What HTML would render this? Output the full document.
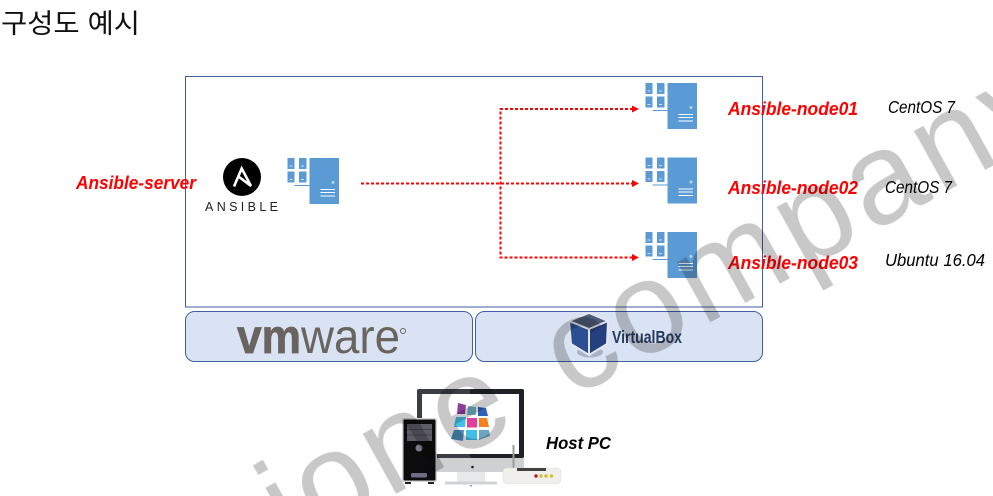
<!DOCTYPE html>
<html><head><meta charset="utf-8"><style>
html,body{margin:0;padding:0;background:#fff;width:993px;height:496px;overflow:hidden}
svg{display:block;position:absolute;left:0;top:0}
.l{font-family:"Liberation Sans","Noto Sans CJK KR",sans-serif}
</style></head><body>
<svg width="993" height="496" viewBox="0 0 993 496" xmlns="http://www.w3.org/2000/svg" style="overflow:hidden">
<defs>
<g id="srv">
<rect x="0" y="0" width="29.5" height="46" fill="#5b9bd5"/>
<rect x="-22" y="0" width="7" height="11" fill="#5b9bd5"/><rect x="-10.500" y="0" width="7.500" height="11" fill="#5b9bd5"/>
<rect x="-22" y="13.500" width="7" height="11" fill="#5b9bd5"/><rect x="-10.500" y="13.500" width="7.500" height="11" fill="#5b9bd5"/>
<path d="M-20 8h3M-8.500 8h3M-20 21.500h3M-8.500 21.500h3" stroke="#cfe0f2" stroke-width="1"/>
<path d="M-15 27.500H0" stroke="#5b9bd5" stroke-width="1"/>
<circle cx="23.500" cy="24.500" r="1.500" fill="#b9d3ec"/>
<path d="M11 31.500h14.500M11 34.500h14.500M11 38h14.500" stroke="#fff" stroke-width="1"/>
</g>
</defs>

<text x="1" y="33" class="l" font-size="27" textLength="139" lengthAdjust="spacingAndGlyphs" fill="#111">구성도 예시</text>

<rect x="185.500" y="76.500" width="577" height="230.500" fill="#fff" stroke="#3f5f9f" stroke-width="1"/>
<rect x="185.500" y="311.500" width="287" height="50" rx="9" fill="#dae3f3" stroke="#3f5f9f" stroke-width="1"/>
<rect x="475.500" y="311.500" width="287" height="50" rx="9" fill="#dae3f3" stroke="#3f5f9f" stroke-width="1"/>

<!-- Ansible logo -->
<circle cx="242" cy="177" r="19" fill="#000"/>
<path d="M234 186.500L241.700 168.500L251 186L238.500 176.500" fill="none" stroke="#fff" stroke-width="2.600"/>
<text x="205" y="211" class="l" font-size="12.500" textLength="73" fill="#222">ANSIBLE</text>

<use href="#srv" x="309.500" y="158"/>
<use href="#srv" x="667.500" y="83"/>
<use href="#srv" x="667.500" y="157.500"/>
<use href="#srv" x="667.500" y="232"/>

<!-- connectors -->
<g fill="none" stroke="#f00" stroke-width="2" stroke-dasharray="3 2">
<path d="M361 183.500H633"/>
<path d="M633 109H500.500V257.500H633"/>
</g>
<path d="M639 109l-7-3.500v7z M639 183.500l-7-3.500v7z M639 257.500l-7-3.500v7z" fill="#f00"/>

<!-- labels -->
<g class="l" font-weight="bold" font-style="italic" font-size="18" fill="#f00">
<text x="76" y="189" textLength="120" lengthAdjust="spacingAndGlyphs">Ansible-server</text>
<text x="728" y="115" textLength="130" lengthAdjust="spacingAndGlyphs">Ansible-node01</text>
<text x="728" y="194" textLength="130" lengthAdjust="spacingAndGlyphs">Ansible-node02</text>
<text x="728" y="269" textLength="130" lengthAdjust="spacingAndGlyphs">Ansible-node03</text>
</g>
<g class="l" font-style="italic" font-size="17.500" fill="#000">
<text x="888" y="113" textLength="67" lengthAdjust="spacingAndGlyphs">CentOS 7</text>
<text x="885" y="193" textLength="67" lengthAdjust="spacingAndGlyphs">CentOS 7</text>
<text x="885" y="266" textLength="100" lengthAdjust="spacingAndGlyphs">Ubuntu 16.04</text>
</g>
<text x="546" y="449" class="l" font-weight="bold" font-style="italic" font-size="17.500" textLength="65" lengthAdjust="spacingAndGlyphs" fill="#000">Host PC</text>

<!-- vmware -->
<text x="237" y="353" class="l" font-size="48" font-weight="bold" textLength="64" lengthAdjust="spacingAndGlyphs" fill="#69645f" stroke="#69645f" stroke-width="0.800">vm</text>
<text x="301" y="353" class="l" font-size="48" textLength="99" lengthAdjust="spacingAndGlyphs" fill="#69645f">ware</text>
<circle cx="403" cy="331" r="2.500" fill="none" stroke="#69645f" stroke-width="1"/>

<!-- VirtualBox -->
<ellipse cx="590" cy="352" rx="13" ry="5.500" fill="#aab4c8"/>
<path d="M589 313L608 321L607 344L589 355L571 344L569 321Z" fill="#20386f"/>
<path d="M589 313L608 321L589 329L569 321Z" fill="#4d5a78"/>
<path d="M569 321L589 329L589 355L571 344Z" fill="#2c4e92"/>
<path d="M589 329L608 321L607 344L589 355Z" fill="#24407e"/>
<path d="M589 313L608 321L589 329L569 321ZM569 321L571 344L589 355V329M608 321L607 344L589 355" fill="none" stroke="#e4e7ee" stroke-width="2"/>
<text x="612" y="343" class="l" font-size="17.500" font-weight="bold" textLength="70" lengthAdjust="spacingAndGlyphs" fill="#27395f">VirtualBox</text>

<!-- Host PC -->
<rect x="417" y="389" width="107" height="69" rx="2" fill="#3a3e44"/>
<rect x="470" y="389" width="54" height="69" rx="2" fill="#1e2226"/>
<rect x="422" y="394" width="97" height="60" fill="#fff"/>
<path d="M417 458H524V470a2 2 0 0 1-2 2H419a2 2 0 0 1-2-2Z" fill="#cfd0d1"/>
<rect x="457" y="472" width="28" height="10" fill="#e8e9ea"/>
<rect x="445" y="481.500" width="52" height="3" fill="#d2d3d4"/>
<circle cx="472.500" cy="467" r="1.300" fill="#222"/>
<rect x="470" y="485" width="2" height="1.500" fill="#4ab9e6"/>
<g>
<path d="M458 403L466 405L465 414L457 414Z" fill="#8e3d9b"/>
<path d="M468 406L476 407L476 415L467 415Z" fill="#6fb6cc"/>
<path d="M478 407L486 408L488 416L478 416Z" fill="#2f62b5"/>
<path d="M456 417L466 417L465 427L454 427Z" fill="#48bfe8"/>
<rect x="467" y="418" width="10" height="9.500" fill="#e0409c"/>
<path d="M479 418H487L489 427H479Z" fill="#f58220"/>
<path d="M454 430H464L463 441L451 439Z" fill="#4d90bd"/>
<rect x="466" y="430" width="11" height="10" fill="#43bde8"/>
<path d="M479 430H489L490 436L479 440Z" fill="#6fa5c4"/>
</g>
<rect x="402" y="418" width="35" height="64" rx="2" fill="#d5d5d5"/>
<rect x="403.500" y="419.500" width="32" height="61" rx="1" fill="#0c0c0e"/>
<rect x="407" y="424" width="25" height="17" fill="#5d5c69"/>
<path d="M407 429.500h25M407 435h25" stroke="#444350" stroke-width="1"/>
<circle cx="419" cy="448" r="3.500" fill="#7b7a88"/>
<rect x="411" y="473" width="16" height="4.500" rx="1.500" fill="#6e6d85"/>
<rect x="405" y="482" width="6" height="2" fill="#222"/><rect x="428" y="482" width="6" height="2" fill="#222"/>
<rect x="512.500" y="445" width="2" height="23" fill="#9c9c9c"/>
<rect x="503" y="468" width="58" height="15.500" rx="4" fill="#f0efec" stroke="#d8d8d4" stroke-width="0.500"/>
<rect x="517" y="468" width="29" height="3" fill="#44423f"/>
<circle cx="536" cy="476" r="1.700" fill="#b01a2a"/><circle cx="541" cy="476" r="1.700" fill="#c9c22a"/><circle cx="546" cy="476" r="1.700" fill="#c9c22a"/><circle cx="551.500" cy="476" r="1.700" fill="#c9c22a"/>

<!-- watermark -->
<g class="l" font-size="130" fill="#c8c8c8" style="mix-blend-mode:multiply">
<text transform="translate(291,552) rotate(-29)" letter-spacing="5">ione</text>
<text transform="translate(572,399) rotate(-29)" letter-spacing="6">company</text>
</g>
</svg>
</body></html>
